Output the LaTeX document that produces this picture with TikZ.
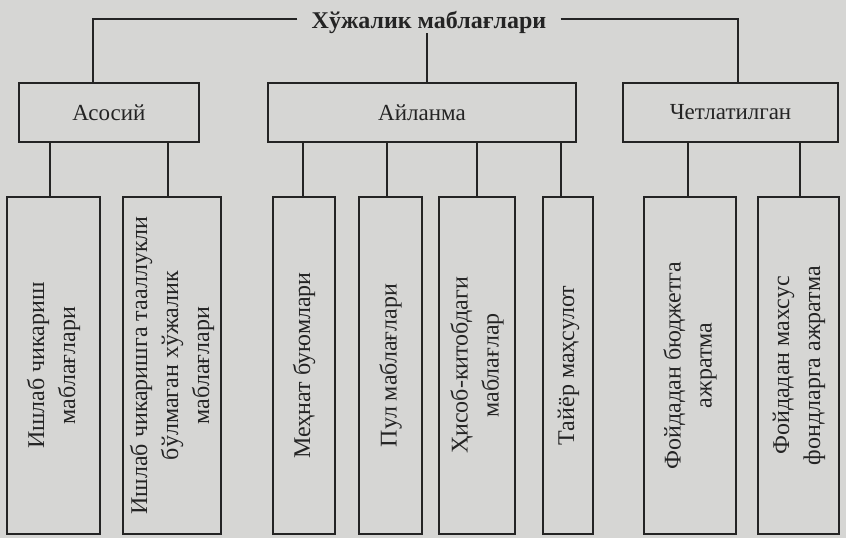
\documentclass[tikz,border=0pt]{standalone}
\usepackage{fontspec}
\setmainfont{Liberation Serif}
\definecolor{bg}{RGB}{214,214,212}
\definecolor{ink}{RGB}{36,36,36}
\begin{document}
\begin{tikzpicture}[x=1pt,y=-1pt,
  every node/.style={text=ink},
  link/.style={draw=ink, line width=2pt},
  topbox/.style={draw=ink, line width=2pt, minimum height=59pt, inner sep=0pt,
                 font=\fontsize{23}{27}\selectfont},
  tallbox/.style={draw=ink, line width=2pt, minimum height=337pt, inner sep=0pt,
                 font=\fontsize{24}{31}\selectfont},
  titlenode/.style={font=\bfseries\fontsize{24}{28}\selectfont, inner xsep=14pt, inner ysep=0pt}]
\fill[bg] (0,0) rectangle (846,538);
\useasboundingbox (0,0) rectangle (846,538);
\newcommand{\vtext}[1]{\rotatebox{90}{\begin{tabular}{@{}c@{}}#1\end{tabular}}}

% title
\node[titlenode, anchor=base] (t) at (429,28) {Хўжалик маблағлари};

% top boxes
\node[topbox, minimum width=180pt] (a) at (109,112.5) {Асосий};
\node[topbox, minimum width=308pt] (b) at (422,112.5) {Айланма};
\node[topbox, minimum width=215pt] (c) at (730.5,112.5) {Четлатилган};

% tall boxes
\node[tallbox, minimum width=93pt] (b1) at (53.5,365.5) {\vtext{Ишлаб чикариш\\маблағлари}};
\node[tallbox, minimum width=98pt] (b2) at (172,365.5) {\vtext{Ишлаб чикаришга тааллукли\\бўлмаган хўжалик\\маблағлари}};
\node[tallbox, minimum width=62pt] (b3) at (304,365.5) {\vtext{Меҳнат буюмлари}};
\node[tallbox, minimum width=63pt] (b4) at (390.5,365.5) {\vtext{Пул маблағлари}};
\node[tallbox, minimum width=76pt] (b5) at (477,365.5) {\vtext{Ҳисоб-китобдаги\\маблағлар}};
\node[tallbox, minimum width=50pt] (b6) at (568,365.5) {\vtext{Тайёр маҳсулот}};
\node[tallbox, minimum width=92pt] (b7) at (690,365.5) {\vtext{Фойдадан бюджетга\\ажратма}};
\node[tallbox, minimum width=81pt] (b8) at (798.5,365.5) {\vtext{Фойдадан махсус\\фондларга ажратма}};

% title connectors
\coordinate (tw) at ([yshift=9pt]t.base west);
\coordinate (te) at ([yshift=9pt]t.base east);
\coordinate (ta) at ([xshift=-16pt]a.north);
\coordinate (tb) at ([xshift=5pt]b.north);
\coordinate (tc) at ([xshift=7.5pt]c.north);
\draw[link] (tw) -| (ta);
\draw[link] (te) -| (tc);
\draw[link] (tb |- t.south) -- (tb);

% child connectors
\coordinate (k1) at ([xshift=-3.5pt]b1.north);
\coordinate (k2) at ([xshift=-4pt]b2.north);
\coordinate (k3) at ([xshift=-1pt]b3.north);
\coordinate (k4) at ([xshift=-3.5pt]b4.north);
\coordinate (k5) at (b5.north);
\coordinate (k6) at ([xshift=-7pt]b6.north);
\coordinate (k7) at ([xshift=-2pt]b7.north);
\coordinate (k8) at ([xshift=1.5pt]b8.north);
\draw[link] (k1 |- a.south) -- (k1);
\draw[link] (k2 |- a.south) -- (k2);
\draw[link] (k3 |- b.south) -- (k3);
\draw[link] (k4 |- b.south) -- (k4);
\draw[link] (k5 |- b.south) -- (k5);
\draw[link] (k6 |- b.south) -- (k6);
\draw[link] (k7 |- c.south) -- (k7);
\draw[link] (k8 |- c.south) -- (k8);
\end{tikzpicture}
\end{document}
